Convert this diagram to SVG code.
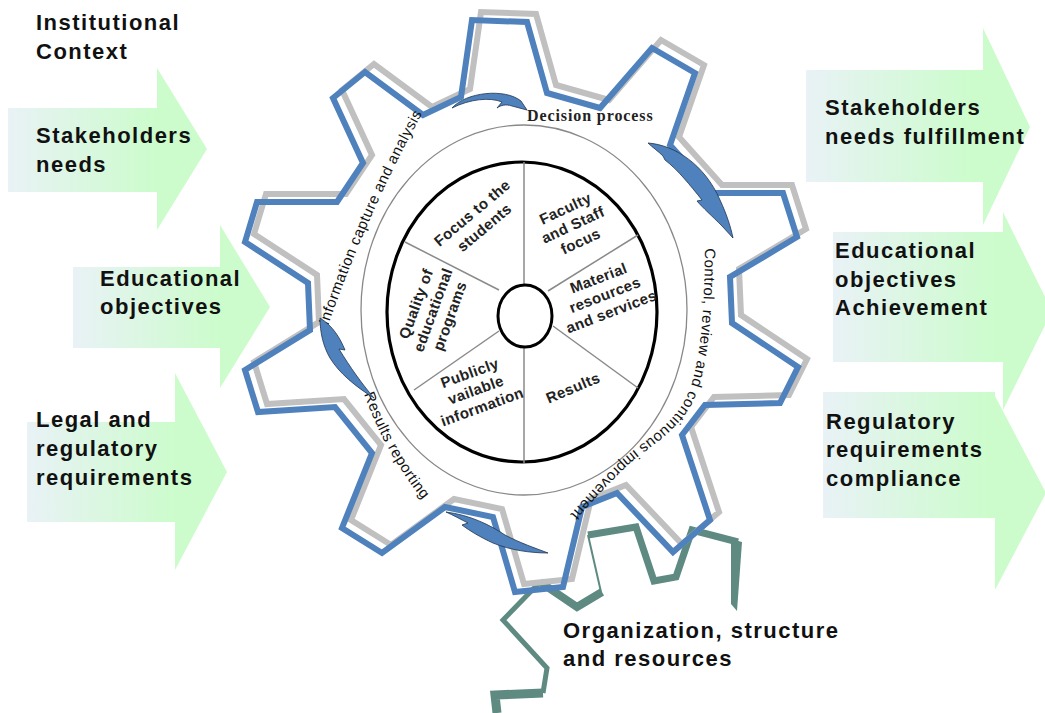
<svg xmlns="http://www.w3.org/2000/svg" width="1045" height="713" viewBox="0 0 1045 713">
<style>
.lbl{font-family:"Liberation Sans",Arial,sans-serif;font-weight:bold;font-size:22px;letter-spacing:1.5px;fill:#111}
.in{font-family:"Liberation Sans",Arial,sans-serif;font-weight:bold;font-size:15px;letter-spacing:0.4px;fill:#222;text-anchor:middle}
.ring{font-family:"Liberation Sans",Arial,sans-serif;font-size:15px;letter-spacing:0.5px;fill:#111}
.dec{font-family:"Liberation Serif","Times New Roman",serif;font-weight:bold;font-size:16px;letter-spacing:0.9px;fill:#222}
.arr{fill:url(#g)}
.gearS{fill:none;stroke:#c0c0c0;stroke-width:6;stroke-linejoin:miter}
.gearB{fill:none;stroke:#4f81bd;stroke-width:6;stroke-linejoin:miter}
.teal{fill:none;stroke:#5e8a82;stroke-linejoin:miter}
.spoke{stroke:#8a8a8a;stroke-width:1.5}
.flow{fill:#4f81bd;stroke:#1f3550;stroke-width:0.8}
</style>
<defs>
<linearGradient id="g" x1="0" y1="0" x2="1" y2="0">
<stop offset="0" stop-color="#e9f2f6"/>
<stop offset="0.74" stop-color="#ccfccc"/>
<stop offset="1" stop-color="#ccfccc"/>
</linearGradient>
<path id="pInfo" d="M328,326 Q370,205 430,100"/>
<path id="pCtrl" d="M705,248 C704,320 700,372 684,402 C668,428 645,440 624,458 C600,480 578,505 552,536"/>
<path id="pRes" d="M364,394 Q388,462 438,518"/>
<polygon id="gearPoly" points="245,242 257,202 337,202 363,163 333,98 365,72 423,115 461,97 472,20 527,22 547,93 600,108 652,48 695,73 670,145 713,193 783,193 797,237 730,277 732,323 798,367 780,403 705,405 682,435 710,520 673,552 617,493 582,507 563,587 515,592 493,517 445,507 382,553 342,528 372,453 335,407 258,412 245,370 310,330 308,283"/>
</defs>
<rect width="1045" height="713" fill="#fff"/>

<g id="in-stakeholders">
<polygon class="arr" points="8,108 157,108 157,68 207,149 157,230 157,192 8,192"/>
<text class="lbl" x="36" y="143">Stakeholders</text>
<text class="lbl" x="36" y="172">needs</text>
</g>
<g id="in-educational">
<polygon class="arr" points="73,267 220,267 220,225 270,307 220,388 220,348 73,348"/>
<text class="lbl" x="100" y="286">Educational</text>
<text class="lbl" x="100" y="314">objectives</text>
</g>
<g id="in-legal">
<polygon class="arr" points="27,422 175,422 175,373 227,472 175,570 175,522 27,522"/>
<text class="lbl" x="36" y="427">Legal and</text>
<text class="lbl" x="36" y="456">regulatory</text>
<text class="lbl" x="36" y="485">requirements</text>
</g>
<g id="out-stakeholders">
<polygon class="arr" points="806,70 983,70 983,28 1030,127 983,225 983,182 806,182"/>
<text class="lbl" x="825" y="115">Stakeholders</text>
<text class="lbl" x="825" y="144">needs fulfillment</text>
</g>
<g id="out-educational">
<polygon class="arr" points="833,232 1003,232 1003,212 1052,311 1003,410 1003,362 833,362"/>
<text class="lbl" x="835" y="258">Educational</text>
<text class="lbl" x="835" y="287">objectives</text>
<text class="lbl" x="835" y="315">Achievement</text>
</g>
<g id="out-regulatory">
<polygon class="arr" points="823,392 995,392 995,396 1046,493 995,590 995,518 823,518"/>
<text class="lbl" x="826" y="429">Regulatory</text>
<text class="lbl" x="826" y="457">requirements</text>
<text class="lbl" x="826" y="486">compliance</text>
</g>

<g id="context-label">
<text class="lbl" x="36" y="30">Institutional</text>
<text class="lbl" x="36" y="59">Context</text>
</g>

<g id="org-gear">
<polyline class="teal" stroke-width="7" points="588,535 636,527 654,581 676,577 692,530 738,542"/>
<polygon fill="#5e8a82" points="731,539 742,542 737,611 731,604"/>
<line class="teal" stroke-width="2" x1="588" y1="535" x2="601" y2="592"/>
<polyline class="teal" stroke-width="8" points="602,592 577,607 540,582"/>
<polyline class="teal" stroke-width="5" points="540,582 503,620 547,668 543,693"/>
<polyline class="teal" stroke-width="9" points="543,693 495,695 497,713"/>
<text class="lbl" x="563" y="638">Organization, structure</text>
<text class="lbl" x="563" y="666">and resources</text>
</g>

<g id="gear">
<use href="#gearPoly" class="gearS" transform="translate(9,-8)"/>
<use href="#gearPoly" class="gearB"/>
</g>

<g id="wheel">
<ellipse cx="524" cy="310" rx="163" ry="185" fill="none" stroke="#888" stroke-width="1.3"/>
<ellipse cx="522" cy="312" rx="135" ry="150" fill="none" stroke="#000" stroke-width="3.2"/>
<line class="spoke" stroke-width="2" x1="524" y1="162" x2="524" y2="285"/>
<line class="spoke" stroke-width="2" x1="524" y1="347" x2="524" y2="463"/>
<line class="spoke" x1="405" y1="242" x2="499" y2="290"/>
<line class="spoke" x1="414" y1="390" x2="499" y2="331"/>
<line class="spoke" x1="638" y1="235" x2="548" y2="291"/>
<line class="spoke" x1="638" y1="388" x2="553" y2="326"/>
<ellipse cx="525" cy="316" rx="27" ry="31" fill="#fff" stroke="#000" stroke-width="3"/>
</g>

<g id="seg-focus"><text class="in" transform="translate(478,220) rotate(-40)"><tspan x="0" y="-4">Focus to  the</tspan><tspan x="0" y="15">students</tspan></text></g>
<g id="seg-faculty"><text class="in" transform="translate(573,225) rotate(-25)"><tspan x="0" y="-13">Faculty</tspan><tspan x="0" y="5">and Staff</tspan><tspan x="0" y="23">focus</tspan></text></g>
<g id="seg-material"><text class="in" transform="translate(605,295) rotate(-21)"><tspan x="0" y="-13">Material</tspan><tspan x="0" y="5">resources</tspan><tspan x="0" y="23">and services</tspan></text></g>
<g id="seg-results"><text class="in" transform="translate(573,388) rotate(-23)"><tspan x="0" y="5">Results</tspan></text></g>
<g id="seg-public"><text class="in" transform="translate(476,390) rotate(-20)"><tspan x="0" y="-13">Publicly</tspan><tspan x="0" y="5">vailable</tspan><tspan x="0" y="23">information</tspan></text></g>
<g id="seg-quality"><text class="in" transform="translate(433,310) rotate(-70)"><tspan x="0" y="-13">Quality of</tspan><tspan x="0" y="5">educational</tspan><tspan x="0" y="23">programs</tspan></text></g>

<g id="stages">
<text class="ring"><textPath href="#pInfo">Information capture and analysis</textPath></text>
<text class="dec" x="527" y="121">Decision process</text>
<text class="ring"><textPath href="#pCtrl">Control, review and continuous improvement</textPath></text>
<text class="ring"><textPath href="#pRes">Results reporting</textPath></text>
</g>

<g id="connectors">
<path class="flow" d="M452,108 C466,92 505,88 521,101 L527,110 L512,106 C506,104 501,105 497,108 L502,102 C490,97 470,99 452,108 Z"/>
<path class="flow" d="M648,143 C675,145 705,165 720,200 C727,215 731,228 733,238 L722,226 C712,216 703,208 697,201 L702,200 C690,185 678,170 665,160 L663,156 C658,151 652,147 648,143 Z"/>
<path class="flow" d="M446,512 C470,515 490,525 505,535 C520,543 535,548 548,553 C530,553 510,550 493,543 C480,537 470,531 462,525 L468,523 C460,519 453,515 446,512 Z"/>
<path class="flow" d="M320,318 C333,326 340,338 345,350 L339,349 C350,367 362,384 374,398 C356,387 339,373 330,358 C323,346 320,332 320,318 Z"/>
</g>
</svg>
